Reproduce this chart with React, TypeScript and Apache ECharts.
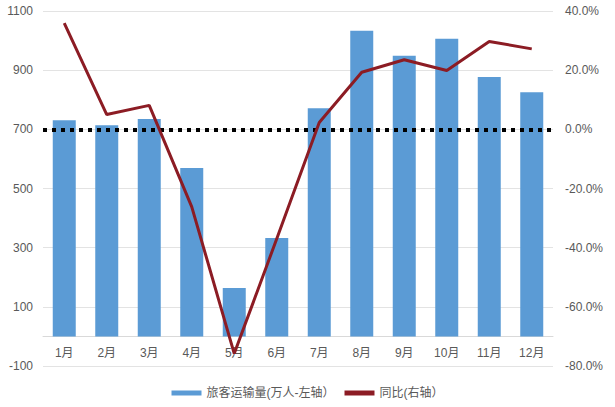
import React, { useEffect, useRef } from "react";
import * as echarts from "echarts";

const months = ["1月", "2月", "3月", "4月", "5月", "6月", "7月", "8月", "9月", "10月", "11月", "12月"];
const passengers = [731, 714, 735, 569, 164, 333, 771, 1033, 949, 1006, 877, 825];
const yoy = [35.9, 5.0, 8.1, -26.2, -75.8, -37.0, 2.3, 19.3, 23.5, 19.9, 29.7, 27.2];
const seriesNames = ["旅客运输量(万人-左轴）", "同比(右轴）"];

const FONT = "'Liberation Sans', 'Noto Sans CJK SC', sans-serif";
const TXT = "#595959";

export default function App() {
  const ref = useRef<HTMLDivElement>(null);
  useEffect(() => {
    if (!ref.current) return;
    const chart = echarts.init(ref.current, null, { renderer: "svg" });
    chart.setOption({
      animation: false,
      backgroundColor: "#fff",
      textStyle: { fontFamily: FONT },
      grid: { left: 43, right: 62, top: 11, bottom: 41 },
      legend: {
        bottom: 3,
        left: "center",
        itemWidth: 30,
        itemHeight: 5,
        itemGap: 10,
        textStyle: { color: TXT, fontSize: 12, fontFamily: FONT },
        data: [
          { name: seriesNames[0], icon: "rect" },
          { name: seriesNames[1], icon: "rect" },
        ],
      },
      xAxis: {
        type: "category",
        data: months,
        position: "bottom",
        offset: -29.6,
        axisLine: { onZero: false, lineStyle: { color: "#D9D9D9", width: 1 } },
        axisTick: { show: false },
        axisLabel: { color: TXT, fontSize: 12, margin: 11, fontFamily: FONT },
      },
      yAxis: [
        {
          type: "value",
          min: -100,
          max: 1100,
          interval: 200,
          position: "left",
          axisLine: { show: false },
          axisTick: { show: false },
          axisLabel: {
            color: TXT,
            fontSize: 12,
            margin: 10,
            fontFamily: FONT,
            formatter: (v: number) => String(v),
          },
          splitLine: { lineStyle: { color: "#E3E3E3", width: 1 } },
        },
        {
          type: "value",
          min: -80,
          max: 40,
          interval: 20,
          position: "right",
          axisLine: { show: false },
          axisTick: { show: false },
          axisLabel: {
            color: TXT,
            fontSize: 12,
            margin: 12,
            fontFamily: FONT,
            formatter: (v: number) => v.toFixed(1) + "%",
          },
          splitLine: { show: false },
        },
      ],
      series: [
        {
          name: seriesNames[0],
          type: "bar",
          yAxisIndex: 0,
          data: passengers,
          barWidth: 23,
          itemStyle: { color: "#5B9BD5" },
        },
        {
          name: seriesNames[1],
          type: "line",
          yAxisIndex: 1,
          data: yoy,
          symbol: "none",
          z: 5,
          lineStyle: { color: "#8C1C24", width: 3 },
          itemStyle: { color: "#8C1C24" },
          markLine: {
            silent: true,
            symbol: "none",
            label: { show: false },
            lineStyle: { color: "#000", type: [4, 5], width: 4 },
            data: [{ yAxis: 0 }],
          },
        },
      ],
    });
    return () => chart.dispose();
  }, []);
  return <div ref={ref} style={{ width: 615, height: 407, position: "absolute", left: 0, top: 0 }} />;
}
